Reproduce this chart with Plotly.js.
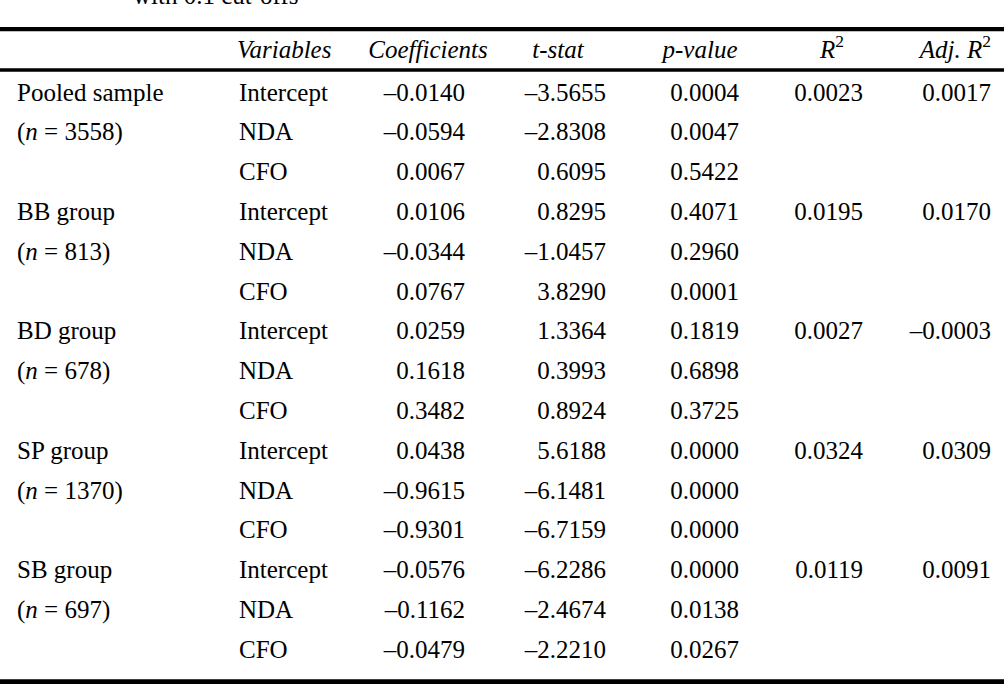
<!DOCTYPE html>
<html>
<head>
<meta charset="utf-8">
<script src="https://cdn.plot.ly/plotly-3.0.1.min.js"></script>
<style>html,body{margin:0;padding:0;background:#fff;}#chart{width:1004px;height:684px;}</style>
</head>
<body>
<div id="chart"></div>
<script>
// ---- Data ----
const caption = "with 0.1 cut-offs";
const headers = ["<i>Variables</i>", "<i>Coefficients</i>", "<i>t-stat</i>", "<i>p-value</i>", "<i>R</i><sup>2</sup>", "<i>Adj. R</i><sup>2</sup>"];
const groups = ["Pooled sample", "BB group", "BD group", "SP group", "SB group"];
const groupN = [3558, 813, 678, 1370, 697];
const variables = ["Intercept", "NDA", "CFO"];
const coefficients = [-0.0140, -0.0594, 0.0067, 0.0106, -0.0344, 0.0767, 0.0259, 0.1618, 0.3482, 0.0438, -0.9615, -0.9301, -0.0576, -0.1162, -0.0479];
const tStat = [-3.5655, -2.8308, 0.6095, 0.8295, -1.0457, 3.8290, 1.3364, 0.3993, 0.8924, 5.6188, -6.1481, -6.7159, -6.2286, -2.4674, -2.2210];
const pValue = [0.0004, 0.0047, 0.5422, 0.4071, 0.2960, 0.0001, 0.1819, 0.6898, 0.3725, 0.0000, 0.0000, 0.0000, 0.0000, 0.0138, 0.0267];
const rSquared = [0.0023, 0.0195, 0.0027, 0.0324, 0.0119];
const adjRSquared = [0.0017, 0.0170, -0.0003, 0.0309, 0.0091];

// ---- Layout constants (pixel space) ----
const W = 1004, H = 684;
const FS = 25;
const rowY0 = 94.3, rowH = 39.8;    // text anchor of first data row
const headerY = 51.3;
const colGroupX = 17, colVarX = 239;
const colCoefR = 465, colTR = 606, colPR = 739, colR2R = 863, colAdjR = 991;
const hdrX = [237, 428, 558, 700, 832, 991];
const hdrPos = ["middle right", "middle center", "middle center", "middle center", "middle center", "middle left"];

function fmt(v) { return (v < 0 ? "\u2013" : "") + Math.abs(v).toFixed(4); }
function rowY(i) { return rowY0 + i * rowH; }

const font = {family: "Liberation Serif", size: FS, color: "#000"};
const traces = [];
function textTrace(xs, ys, texts, pos) {
  traces.push({type: "scatter", mode: "text", x: xs, y: ys, text: texts, textposition: pos,
    textfont: font, hoverinfo: "skip", cliponaxis: true, showlegend: false});
}

// caption (cut off at top of the picture)
textTrace([133], [-1.8], [caption], "middle right");

// headers
headers.forEach((h, k) => textTrace([hdrX[k]], [headerY], [h], hdrPos[k]));

// group labels
const gx = [], gy = [], gt = [];
groups.forEach((g, i) => {
  gx.push(colGroupX, colGroupX); gy.push(rowY(i * 3), rowY(i * 3 + 1));
  gt.push(g, "(<i>n</i> = " + groupN[i] + ")");
});
textTrace(gx, gy, gt, "middle right");

// variables & numbers
const nRows = coefficients.length;
const rows = [...Array(nRows).keys()];
textTrace(rows.map(() => colVarX), rows.map(rowY), rows.map(i => variables[i % 3]), "middle right");
textTrace(rows.map(() => colCoefR), rows.map(rowY), coefficients.map(fmt), "middle left");
textTrace(rows.map(() => colTR), rows.map(rowY), tStat.map(fmt), "middle left");
textTrace(rows.map(() => colPR), rows.map(rowY), pValue.map(fmt), "middle left");
textTrace(groups.map(() => colR2R), groups.map((g, i) => rowY(i * 3)), rSquared.map(fmt), "middle left");
textTrace(groups.map(() => colAdjR), groups.map((g, i) => rowY(i * 3)), adjRSquared.map(fmt), "middle left");

const rule = (y0, y1) => ({type: "rect", xref: "x", yref: "y", x0: 0, x1: W, y0: y0, y1: y1,
  fillcolor: "#000", line: {width: 0}, layer: "above"});

const layout = {
  width: W, height: H,
  margin: {l: 0, r: 0, t: 0, b: 0, pad: 0},
  paper_bgcolor: "#fff", plot_bgcolor: "#fff",
  font: font,
  showlegend: false,
  xaxis: {range: [0, W], visible: false, fixedrange: true},
  yaxis: {range: [H, 0], visible: false, fixedrange: true},
  shapes: [rule(27, 31.3), rule(68.3, 71.8), rule(679.2, 684)]
};

Plotly.newPlot("chart", traces, layout, {staticPlot: true, displayModeBar: false});
</script>
</body>
</html>
